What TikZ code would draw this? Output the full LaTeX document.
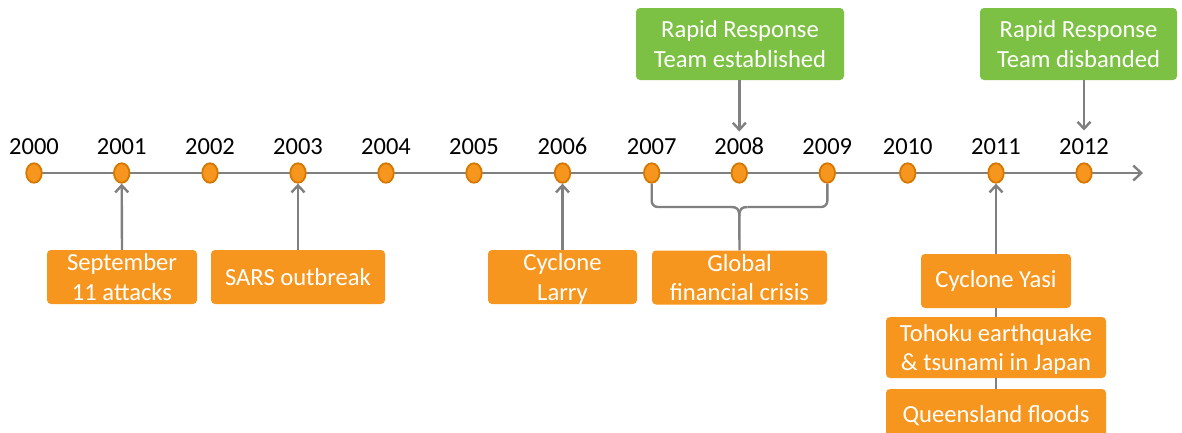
\documentclass[tikz,border=0pt]{standalone}
\usepackage{fontspec}
\setmainfont{Carlito}
\usetikzlibrary{shapes.geometric,arrows.meta}
\definecolor{evorange}{RGB}{247,150,30}
\definecolor{dotedge}{RGB}{214,120,0}
\definecolor{evgreen}{RGB}{124,193,68}
\definecolor{axisgray}{RGB}{128,128,128}
% a line whose descenders do not push the text block upward
\newcommand{\nodepth}[1]{\raisebox{0pt}[\height][0pt]{#1}}
\begin{document}
\begin{tikzpicture}[x=1pt,y=-1pt,
  axisline/.style={draw=axisgray,line width=2.6pt},
  link/.style={draw=axisgray,line width=2.4pt},
  arr/.style={link,-{Straight Barb[length=7pt,width=13pt,line width=2.4pt]}},
  yeardot/.style={ellipse,draw=dotedge,fill=evorange,line width=1.8pt,minimum width=15.5pt,minimum height=19.5pt,inner sep=0pt},
  yearlbl/.style={font=\fontsize{24.5}{28}\selectfont,text=black,inner sep=0pt},
  evbox/.style={rectangle,rounded corners=4pt,fill=evorange,text=white,align=center,
     font=\fontsize{24.6}{29.5}\selectfont,inner sep=0pt},
  teambox/.style={evbox,fill=evgreen}]
\clip (0,0) rectangle (1182,432);
\fill[white] (0,0) rectangle (1182,432);

% axis
\coordinate (axstart) at (26,173);
\coordinate (axend) at (1143,173);
\draw[axisline,-{Straight Barb[length=8pt,width=15pt,line width=2.4pt]}] (axstart) -- (axend);

% year dots and labels
\foreach \yr/\xx in {2000/34,2001/121.7,2002/210,2003/298,2004/386,2005/474,2006/562.5,
                     2007/651.7,2008/739.3,2009/827.3,2010/907.7,2011/996,2012/1084}{
  \node[yeardot] (d\yr) at (\xx,173) {};
  \node[yearlbl] (y\yr) at (\xx,146.5) {\yr};
}

% events below the axis
\node[evbox,minimum width=150pt,minimum height=54pt] (sep) at (122,277) {September\\11 attacks};
\node[evbox,minimum width=174pt,minimum height=54pt] (sars) at (298,277) {SARS outbreak};
\node[evbox,minimum width=149pt,minimum height=54pt] (larry) at (562.5,277) {Cyclone\\\nodepth{Larry}};
\node[evbox,minimum width=175pt,minimum height=54pt] (gfc) at (739.5,277.5) {Global\\financial crisis};
\node[evbox,minimum width=150pt,minimum height=54pt] (yasi) at (996,281) {Cyclone Yasi};
\node[evbox,minimum width=220pt,minimum height=61pt] (tohoku) at (996,347.5) {Tohoku earthquake\\\nodepth{\& tsunami in Japan}};
\node[evbox,minimum width=220pt,minimum height=54pt] (qld) at (996,416) {\raisebox{3pt}{Queensland floods}};

% team milestones above the axis
\node[teambox,minimum width=208pt,minimum height=72pt] (rre) at (740,44) {Rapid Response\\Team established};
\node[teambox,minimum width=197pt,minimum height=72pt] (rrd) at (1078.5,44) {Rapid Response\\Team disbanded};

% connectors
\draw[arr] (sep.north) -- (d2001.south);
\draw[arr] (sars.north) -- (d2003.south);
\draw[arr] (larry.north) -- (d2006.south);
\draw[arr] (yasi.north) -- (d2011.south);
\draw[link] (yasi.south) -- (tohoku.north);
\draw[link] (tohoku.south) -- (qld.north);
\coordinate (tip2008) at (739.3,131.5);
\coordinate (tip2012) at (1084,130.5);
\draw[arr] (rre.south -| tip2008) -- (tip2008);
\draw[arr] (rrd.south -| tip2012) -- (tip2012);

% brace spanning 2007--2009
\coordinate (bracetip) at (739.3,216);
\draw[link,rounded corners=6pt] (d2007.south) -- (651.7,207) -- (731,207);
\draw[link] (731,207) .. controls (737,207) and (739.3,209) .. (bracetip);
\draw[link,rounded corners=6pt] (d2009.south) -- (827.3,207) -- (747.6,207);
\draw[link] (747.6,207) .. controls (741.6,207) and (739.3,209) .. (bracetip);
\draw[link] (bracetip) -- (gfc.north);
\end{tikzpicture}
\end{document}
